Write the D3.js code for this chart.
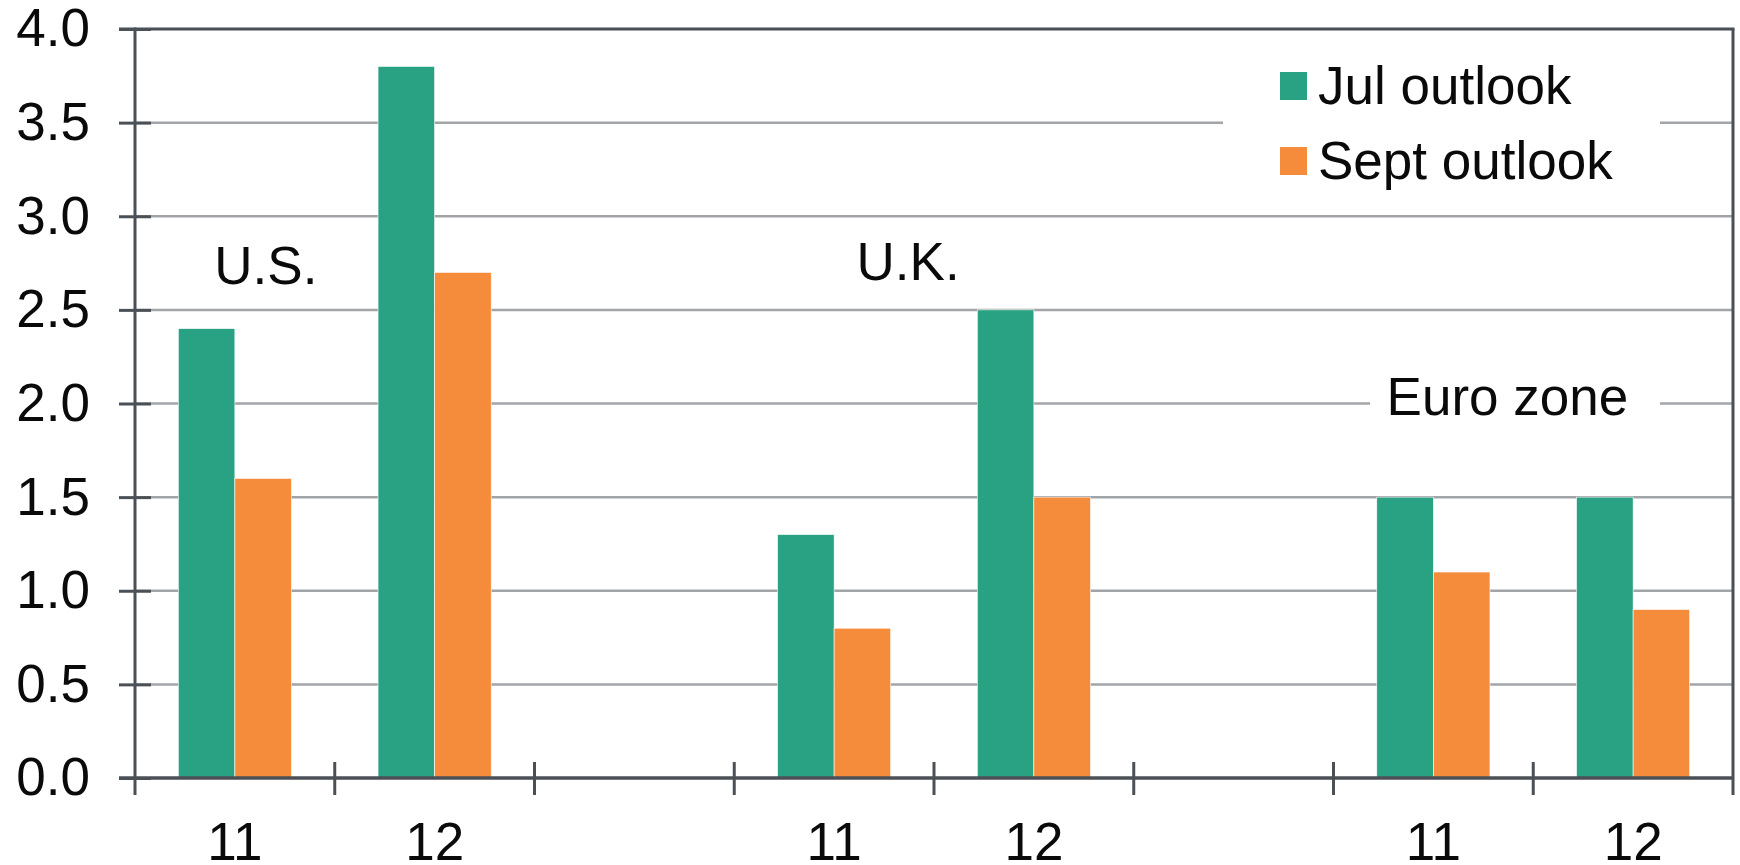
<!DOCTYPE html>
<html>
<head>
<meta charset="utf-8">
<script src="https://cdn.jsdelivr.net/npm/d3@7/dist/d3.min.js"></script>
<style>
  body { margin: 0; background: #fff; }
  text { font-family: "Liberation Sans", Arial, sans-serif; fill: #0a0a0a; }
</style>
</head>
<body>
<div id="chart"></div>
<script>
// data
var slotLabels = ["11", "12", "", "11", "12", "", "11", "12"];
var julOutlook = [2.4, 3.8, null, 1.3, 2.5, null, 1.5, 1.5];
var septOutlook = [1.6, 2.7, null, 0.8, 1.5, null, 1.1, 0.9];
var seriesNames = ["Jul outlook", "Sept outlook"];
var regionLabels = ["U.S.", "U.K.", "Euro zone"];
var yTicks = [0, 0.5, 1, 1.5, 2, 2.5, 3, 3.5, 4];

var w = 1740, h = 865;
var plotLeft = 135, plotRight = 1733, plotTop = 29, plotBottom = 778;
var green = "#29a283", orange = "#f48c3c";
var axisColor = "#4b5056", gridColor = "#a2a5a8";
var fontSize = "53px";

var svg = d3.select("#chart").append("svg")
    .attr("width", w)
    .attr("height", h);

var x0 = d3.scaleBand()
    .domain(d3.range(slotLabels.length))
    .range([plotLeft, plotRight])
    .padding(0);
var x1 = d3.scaleBand()
    .domain([0, 1])
    .range([0, x0.bandwidth()])
    .paddingInner(0)
    .paddingOuter(0.765);
var y = d3.scaleLinear()
    .domain([0, 4])
    .range([plotBottom, plotTop]);

/****** grid ******/
svg.append("g").selectAll("line")
    .data(yTicks.filter(function(d) { return d > 0 && d < 4; }))
    .enter().append("line")
    .attr("x1", plotLeft).attr("x2", plotRight)
    .attr("y1", function(d) { return y(d); })
    .attr("y2", function(d) { return y(d); })
    .attr("stroke", gridColor)
    .attr("stroke-width", 2.5);

/****** bars ******/
var rows = slotLabels.map(function(d, i) {
    return { i: i, vals: [julOutlook[i], septOutlook[i]] };
}).filter(function(d) { return d.vals[0] != null; });

svg.append("g").selectAll("g")
    .data(rows)
    .enter().append("g")
    .attr("transform", function(d) { return "translate(" + x0(d.i) + ",0)"; })
    .selectAll("rect")
    .data(function(d) { return d.vals; })
    .enter().append("rect")
    .attr("x", function(d, k) { return x1(k); })
    .attr("width", x1.bandwidth())
    .attr("y", function(d) { return y(d); })
    .attr("height", function(d) { return y(0) - y(d); })
    .attr("fill", function(d, k) { return k === 0 ? green : orange; })
    .attr("stroke", "#fff")
    .attr("stroke-width", 0.6);

/****** white boxes behind legend and Euro zone label ******/
svg.append("rect").attr("x", 1223).attr("y", 42).attr("width", 437).attr("height", 160).attr("fill", "#fff");
svg.append("rect").attr("x", 1370).attr("y", 372).attr("width", 290).attr("height", 52).attr("fill", "#fff");

/****** frame & axes ******/
// top and right border
svg.append("line").attr("x1", plotLeft - 16).attr("x2", plotRight + 1.5)
    .attr("y1", y(4)).attr("y2", y(4))
    .attr("stroke", axisColor).attr("stroke-width", 3);
svg.append("line").attr("x1", plotRight).attr("x2", plotRight)
    .attr("y1", y(4)).attr("y2", plotBottom + 17)
    .attr("stroke", axisColor).attr("stroke-width", 3);

// y axis
var yAxis = d3.axisLeft(y)
    .tickValues(yTicks)
    .tickFormat(d3.format(".1f"))
    .tickSize(16)
    .tickPadding(29);
var gy = svg.append("g")
    .attr("transform", "translate(" + plotLeft + ",0)")
    .call(yAxis);
gy.select(".domain").remove();
gy.selectAll(".tick line")
    .attr("x2", -16).attr("x1", 16)
    .attr("stroke", axisColor).attr("stroke-width", 3);
gy.selectAll(".tick text")
    .attr("font-size", fontSize)
    .attr("font-family", "Liberation Sans, Arial, sans-serif")
    .attr("fill", "#0a0a0a");
svg.append("line").attr("x1", plotLeft).attr("x2", plotLeft)
    .attr("y1", y(4) - 1.5).attr("y2", plotBottom + 17)
    .attr("stroke", axisColor).attr("stroke-width", 3);

// x axis
svg.append("line").attr("x1", plotLeft - 16).attr("x2", plotRight)
    .attr("y1", y(0)).attr("y2", y(0))
    .attr("stroke", axisColor).attr("stroke-width", 3.5);
svg.append("g").selectAll("line")
    .data(d3.range(1, slotLabels.length))
    .enter().append("line")
    .attr("x1", function(d) { return x0(d); })
    .attr("x2", function(d) { return x0(d); })
    .attr("y1", plotBottom - 16).attr("y2", plotBottom + 17)
    .attr("stroke", axisColor).attr("stroke-width", 3);

var xAxis = d3.axisBottom(x0)
    .tickFormat(function(i) { return slotLabels[i]; })
    .tickSize(0)
    .tickPadding(0);
var gx = svg.append("g")
    .attr("transform", "translate(0," + plotBottom + ")")
    .call(xAxis);
gx.select(".domain").remove();
gx.selectAll(".tick text")
    .attr("dy", null)
    .attr("y", 82)
    .attr("font-size", fontSize)
    .attr("font-family", "Liberation Sans, Arial, sans-serif")
    .attr("fill", "#0a0a0a");

/****** region labels ******/
var regionSlot = [0, 3, 6];
var regionShift = [31, 74, 74];
var regionValue = [2.64, 2.66, 1.94];
svg.append("g").selectAll("text")
    .data(regionLabels)
    .enter().append("text")
    .attr("x", function(d, i) { return x0(regionSlot[i]) + x0.bandwidth() / 2 + regionShift[i]; })
    .attr("y", function(d, i) { return y(regionValue[i]); })
    .attr("text-anchor", "middle")
    .attr("font-size", fontSize)
    .text(function(d) { return d; });

/****** legend ******/
var legend = svg.append("g").selectAll("g")
    .data(seriesNames)
    .enter().append("g")
    .attr("transform", function(d, i) { return "translate(1280," + (72 + i * 75) + ")"; });
legend.append("rect")
    .attr("width", 27).attr("height", 28)
    .attr("fill", function(d, i) { return i === 0 ? green : orange; });
legend.append("text")
    .attr("x", 38).attr("y", 32)
    .attr("font-size", fontSize)
    .text(function(d) { return d; });
</script>
</body>
</html>
